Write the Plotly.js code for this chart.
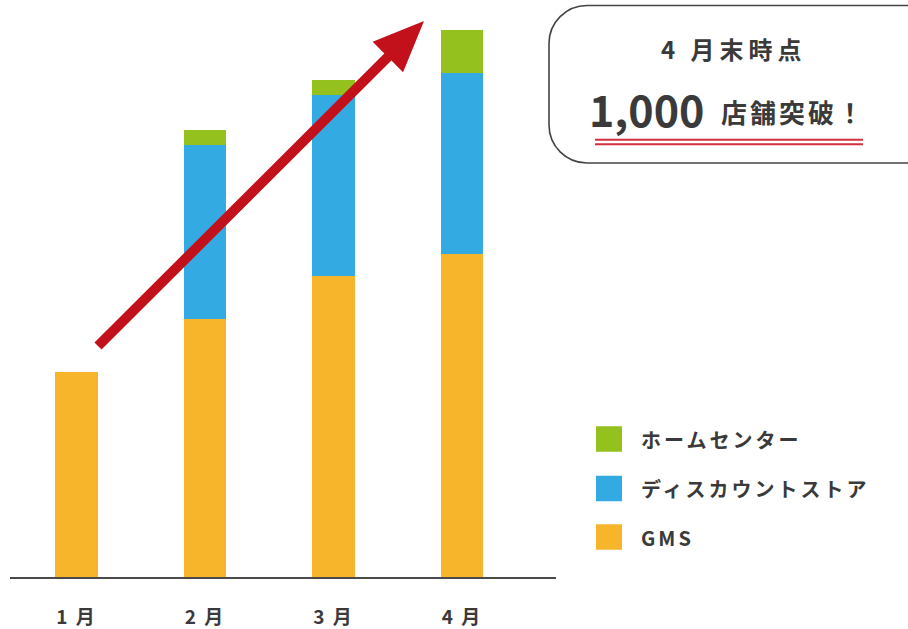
<!DOCTYPE html>
<html>
<head>
<meta charset="utf-8">
<script src="https://cdn.plot.ly/plotly-3.0.1.min.js"></script>
<style>html,body{margin:0;padding:0;background:#fff;}#chart{width:908px;height:629px;}</style>
</head>
<body>
<div id="chart"></div>
<script>
// ---- data ----
const months = ['1 月', '2 月', '3 月', '4 月'];
const seriesNames = ['GMS', 'ディスカウントストア', 'ホームセンター'];
const gms = [379, 478, 558, 598];
const discountStore = [0, 322, 334, 335];
const homeCenter = [0, 28, 28, 80];
const calloutLine1 = '4 月末時点';
const calloutNumber = '1,000';
const calloutSuffix = '店舗突破！';

// ---- styles ----
const colors = {gms: '#f7b52c', disc: '#33abe2', home: '#95c11f', text: '#3a3a3a', arrow: '#c3111c', underline: '#d42d3e'};
const FONT = '"Noto Sans CJK JP", "Noto Sans", sans-serif';
const W = 908, H = 629, L = 10, R = 556, T = 0, B = 577;
const px = x => (x - L) / (R - L);
const py = y => (B - y) / (B - T);
const spaced = (s, ls) => '<span style="letter-spacing:' + ls + 'px">' + s + '</span>';

const traces = [
  {type: 'bar', name: seriesNames[0], x: months, y: gms, marker: {color: colors.gms, line: {width: 0}}},
  {type: 'bar', name: seriesNames[1], x: months, y: discountStore, marker: {color: colors.disc, line: {width: 0}}},
  {type: 'bar', name: seriesNames[2], x: months, y: homeCenter, marker: {color: colors.home, line: {width: 0}}}
];

// arrow polygon (decoration), pixel space
function arrowPath() {
  const Tx = 98, Ty = 346, Px = 424, Py = 21;
  const dx = Px - Tx, dy = Py - Ty, len = Math.hypot(dx, dy);
  const ux = dx / len, uy = dy / len, nx = -uy, ny = ux;
  const hl = 51, hw = 21.5, sw = 5;
  const Bx = Px - hl * ux, By = Py - hl * uy;
  const pts = [
    [Tx + sw * nx, Ty + sw * ny], [Bx + sw * nx, By + sw * ny], [Bx + hw * nx, By + hw * ny],
    [Px, Py], [Bx - hw * nx, By - hw * ny], [Bx - sw * nx, By - sw * ny], [Tx - sw * nx, Ty - sw * ny]
  ];
  return 'M' + pts.map(p => px(p[0]) + ',' + py(p[1])).join(' L') + ' Z';
}
function boxPath() {
  const x0 = 549, y0 = 5.5, x1 = 960, y1 = 163, r = 38, k = 0.5523;
  const P = (x, y) => px(x) + ',' + py(y);
  return 'M' + P(x1, y0) + ' L' + P(x0 + r, y0) +
    ' C' + P(x0 + r - k * r, y0) + ' ' + P(x0, y0 + r - k * r) + ' ' + P(x0, y0 + r) +
    ' L' + P(x0, y1 - r) +
    ' C' + P(x0, y1 - r + k * r) + ' ' + P(x0 + r - k * r, y1) + ' ' + P(x0 + r, y1) +
    ' L' + P(x1, y1);
}

const legendItems = [
  {name: seriesNames[2], color: colors.home, y: 439},
  {name: seriesNames[1], color: colors.disc, y: 488.5},
  {name: seriesNames[0], color: colors.gms, y: 537}
];

const shapes = [
  {type: 'path', xref: 'paper', yref: 'paper', path: arrowPath(), fillcolor: colors.arrow, line: {width: 0}},
  {type: 'path', xref: 'paper', yref: 'paper', path: boxPath(), fillcolor: 'rgba(0,0,0,0)', line: {color: '#444', width: 1.6}},
  {type: 'line', xref: 'paper', yref: 'paper', x0: px(595), x1: px(863), y0: py(139.7), y1: py(139.7), line: {color: colors.underline, width: 2}},
  {type: 'line', xref: 'paper', yref: 'paper', x0: px(595), x1: px(863), y0: py(144.3), y1: py(144.3), line: {color: colors.underline, width: 2}}
];
legendItems.forEach(it => {
  shapes.push({type: 'rect', xref: 'paper', yref: 'paper', x0: px(596), x1: px(622), y0: py(it.y - 12.75), y1: py(it.y + 12.75), fillcolor: it.color, line: {width: 0}});
});

const annotations = [
  {xref: 'paper', yref: 'paper', x: px(734), y: py(49), xanchor: 'center', yanchor: 'middle', showarrow: false, text: spaced(calloutLine1, 5), font: {family: FONT, size: 24, color: colors.text, weight: 'bold'}},
  {xref: 'paper', yref: 'paper', x: px(706), y: py(108), xanchor: 'right', yanchor: 'middle', showarrow: false, text: calloutNumber, font: {family: FONT, size: 43, color: colors.text, weight: 'bold'}},
  {xref: 'paper', yref: 'paper', x: px(719), y: py(111), xanchor: 'left', yanchor: 'middle', showarrow: false, text: spaced(calloutSuffix, 3), font: {family: FONT, size: 26, color: colors.text, weight: 'bold'}}
];
legendItems.forEach(it => {
  annotations.push({xref: 'paper', yref: 'paper', x: px(639), y: py(it.y), xanchor: 'left', yanchor: 'middle', showarrow: false, text: spaced(it.name, 3), font: {family: FONT, size: 20, color: colors.text, weight: 'bold'}});
});

const layout = {
  width: W, height: H,
  margin: {l: L, r: W - R, t: T, b: H - B, pad: 0},
  paper_bgcolor: '#fff', plot_bgcolor: '#fff',
  barmode: 'stack', bargap: 0.673,
  showlegend: false,
  font: {family: FONT, color: colors.text},
  xaxis: {
    type: 'category', range: [-0.5175, 3.7315], fixedrange: true,
    tickvals: months, ticktext: months.map(m => spaced(m, 2)),
    showline: true, linecolor: '#4a4a4a', linewidth: 2,
    showgrid: false, zeroline: false,
    ticks: 'outside', ticklen: 22, tickcolor: 'rgba(0,0,0,0)',
    tickfont: {family: FONT, size: 19, color: colors.text, weight: 'bold'}
  },
  yaxis: {range: [0, (B - T) / 0.54], visible: false, showgrid: false, zeroline: false, fixedrange: true},
  shapes: shapes,
  annotations: annotations
};

Plotly.newPlot('chart', traces, layout, {displayModeBar: false, staticPlot: true});
</script>
</body>
</html>
